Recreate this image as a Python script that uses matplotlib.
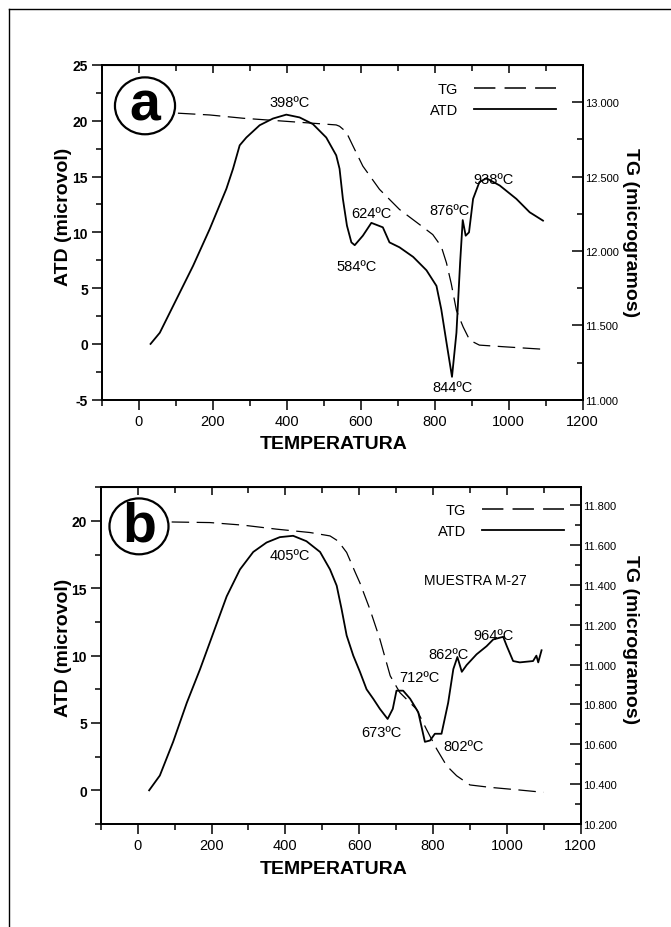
"""ATD / TG de dos muestras (a y b), figura de dos paneles."""
import matplotlib

matplotlib.use("Agg")
import matplotlib.pyplot as plt  # noqa: E402
from matplotlib.lines import Line2D  # noqa: E402
from matplotlib.patches import Ellipse  # noqa: E402
from matplotlib.ticker import MultipleLocator, FixedLocator  # noqa: E402

plt.rcParams["font.family"] = ["Liberation Sans", "DejaVu Sans"]

# ---------------------------------------------------------------------------
# Datos
# ---------------------------------------------------------------------------
# Panel a - ATD (microvol)
T_A_ATD = [32, 57, 102, 147, 192, 237, 255, 273, 291, 327, 363, 399, 435, 471,
           507, 534, 543, 552, 563, 575, 584, 606, 629, 660, 678, 705, 742, 778,
           805, 818, 832, 847, 859, 869, 876, 884, 893, 904, 921, 940, 976, 1021,
           1057, 1093]
ATD_A = [0.0, 1.0, 4.0, 7.0, 10.3, 13.9, 15.7, 17.8, 18.5, 19.6, 20.2, 20.55,
         20.3, 19.7, 18.5, 16.9, 15.7, 13.0, 10.6, 9.1, 8.85, 9.7, 10.85, 10.45,
         9.1, 8.66, 7.8, 6.6, 5.2, 3.1, 0.15, -2.95, 1.0, 7.3, 11.1, 9.7, 10.0,
         13.0, 14.5, 14.85, 14.2, 13.0, 11.8, 11.05]
# Panel a - TG (microgramos)
T_A_TG = [106, 192, 282, 372, 462, 534, 543, 561, 579, 606, 651, 705, 759, 795,
          818, 832, 845, 859, 877, 895, 921, 993, 1101]
TG_A = [12.926, 12.914, 12.892, 12.876, 12.860, 12.847, 12.838, 12.80, 12.707,
        12.57, 12.414, 12.279, 12.178, 12.11, 12.03, 11.92, 11.78, 11.60, 11.49,
        11.40, 11.367, 11.355, 11.338]

# Panel b - ATD
T_B_ATD = [31, 60, 96, 133, 169, 205, 241, 277, 313, 349, 385, 421, 457, 494,
           521, 539, 552, 566, 584, 602, 620, 638, 656, 677, 691, 701, 719, 738,
           760, 778, 792, 805, 823, 841, 855, 866, 878, 891, 918, 945, 963, 990,
           1000, 1017, 1035, 1071, 1080, 1085, 1094]
ATD_B = [0.0, 1.1, 3.6, 6.5, 9.0, 11.7, 14.4, 16.4, 17.7, 18.4, 18.8, 18.9, 18.5,
         17.7, 16.4, 15.2, 13.5, 11.5, 10.0, 8.8, 7.5, 6.8, 6.05, 5.3, 6.05, 7.4,
         7.4, 6.8, 5.8, 3.6, 3.7, 4.2, 4.2, 6.5, 9.0, 9.9, 8.8, 9.3, 10.1, 10.7,
         11.2, 11.4, 10.7, 9.6, 9.5, 9.6, 10.0, 9.5, 10.4]
# Panel b - TG
T_B_TG = [92, 196, 286, 376, 467, 521, 543, 566, 590, 602, 629, 656, 684, 710,
          755, 782, 810, 837, 864, 900, 954, 1026, 1099]
TG_B = [11.716, 11.713, 11.70, 11.68, 11.663, 11.646, 11.62, 11.563, 11.46,
        11.41, 11.278, 11.128, 10.944, 10.86, 10.777, 10.676, 10.576, 10.492,
        10.442, 10.396, 10.384, 10.372, 10.359]

# Picos anotados: (texto, T, ATD)
PICOS_A = [("398ºC", 408, 21.7), ("584ºC", 589, 7.0), ("624ºC", 629, 11.7),
           ("876ºC", 840, 12.0), ("938ºC", 958, 14.8), ("844ºC", 848, -3.9)]
PICOS_B = [("405ºC", 412, 17.5), ("673ºC", 661, 4.3), ("712ºC", 763, 8.4),
           ("802ºC", 882, 3.3), ("862ºC", 841, 10.1), ("964ºC", 965, 11.55)]

X_TICKS = [0, 200, 400, 600, 800, 1000, 1200]
Y_TICKS_A = [-5, 0, 5, 10, 15, 20, 25]
Y_TICKS_B = [0, 5, 10, 15, 20]
TG_TICKS_A = [11.0, 11.5, 12.0, 12.5, 13.0]
TG_TICKS_B = [10.2, 10.4, 10.6, 10.8, 11.0, 11.2, 11.4, 11.6, 11.8]

TINTA = "black"
DASH = (0, (14, 6))


def panel(fig, rect, t_atd, atd, t_tg, tg, ylim, yticks, tglim, tgticks,
          tgminor, picos, letra, elipse, leyenda, extra=None):
    ax = fig.add_axes(rect)
    ax2 = ax.twinx()

    ax.plot(t_atd, atd, color=TINTA, lw=1.3)
    ax2.plot(t_tg, tg, color=TINTA, lw=0.9, linestyle=DASH)

    ax.set_xlim(-100, 1200)
    ax.set_ylim(*ylim)
    ax2.set_ylim(*tglim)

    ax.xaxis.set_major_locator(FixedLocator(X_TICKS))
    ax.xaxis.set_minor_locator(MultipleLocator(100))
    ax.set_xticklabels([str(t) for t in X_TICKS], fontsize=10.5)
    ax.yaxis.set_major_locator(FixedLocator(yticks))
    ax.yaxis.set_minor_locator(MultipleLocator(2.5))
    ax.set_yticklabels([str(v) for v in yticks], fontsize=10, fontweight="bold")
    ax.tick_params(axis="both", which="major", direction="out", length=7,
                   width=1.1, pad=3)
    ax.tick_params(axis="both", which="minor", direction="out", length=4,
                   width=1.1)

    ax2.yaxis.set_major_locator(FixedLocator(tgticks))
    ax2.yaxis.set_minor_locator(MultipleLocator(tgminor))
    ax2.set_yticklabels([f"{v:.3f}" for v in tgticks], fontsize=8)
    ax2.tick_params(axis="y", which="major", direction="in", length=8,
                    width=1.1, pad=2)
    ax2.tick_params(axis="y", which="minor", direction="in", length=4,
                    width=1.1)

    # marcas superiores hacia dentro
    top = ax.secondary_xaxis("top")
    top.xaxis.set_major_locator(FixedLocator(X_TICKS))
    top.xaxis.set_minor_locator(MultipleLocator(100))
    top.tick_params(which="both", direction="in", labeltop=False, width=1.1)
    top.tick_params(which="major", length=6)
    top.tick_params(which="minor", length=4)

    for a in (ax, ax2):
        for s in a.spines.values():
            s.set_linewidth(1.3)

    for txt, t, v in picos:
        ax.text(t, v, txt, ha="center", va="center", fontsize=10.5,
                color=TINTA)
    if extra:
        ax.text(extra[1], extra[2], extra[0], ha="center", va="center",
                fontsize=10, color=TINTA)

    # circulo con la letra del panel
    cx, cy, w, h = elipse
    ax.add_patch(Ellipse((cx, cy), w, h, transform=ax.transAxes, fill=False,
                         lw=1.6, color=TINTA, zorder=5))
    ax.text(cx, cy, letra, transform=ax.transAxes, ha="center", va="center",
            fontsize=40, fontweight="bold", color=TINTA, zorder=5)

    manejadores = [Line2D([], [], color=TINTA, lw=1.1, linestyle=DASH),
                   Line2D([], [], color=TINTA, lw=1.3)]
    ax2.legend(manejadores, ["TG", "ATD"], loc="upper right",
               bbox_to_anchor=leyenda, frameon=False,
               markerfirst=False, handlelength=5.6, handletextpad=1.1,
               labelspacing=0.43, fontsize=10.5, borderaxespad=0,
               borderpad=0)
    return ax, ax2


fig = plt.figure(figsize=(6.71, 9.28), dpi=100)

# marco exterior (solo bordes superior e izquierdo visibles)
fig.add_artist(Line2D([0.0134, 0.0134], [0.0, 0.9895], color=TINTA, lw=1.0))
fig.add_artist(Line2D([0.0134, 1.0], [0.9895, 0.9895], color=TINTA, lw=1.0))

panel(fig, [0.1516, 0.5682, 0.7166, 0.3607], T_A_ATD, ATD_A, T_A_TG, TG_A,
      (-5, 25), Y_TICKS_A, (11.0, 13.25), TG_TICKS_A, 0.25, PICOS_A, "a",
      (0.090, 0.878, 0.125, 0.170), (0.945, 0.948))
panel(fig, [0.1502, 0.1110, 0.7152, 0.3628], T_B_ATD, ATD_B, T_B_TG, TG_B,
      (-2.5, 22.5), Y_TICKS_B, (10.2, 11.89), TG_TICKS_B, 0.1, PICOS_B, "b",
      (0.0796, 0.884, 0.123, 0.166), (0.965, 0.952),
      extra=("MUESTRA M-27", 914, 15.6))

# etiquetas de ejes
for yc_atd, yc_tg, y_temp in [(217, 233, 445), (648, 640, 870)]:
    fig.text(64 / 671, 1 - yc_atd / 928, "ATD (microvol)", rotation=90,
             ha="center", va="center", fontsize=14, fontweight="bold")
    fig.text(631 / 671, 1 - yc_tg / 928, "TG (microgramos)", rotation=-90,
             ha="center", va="center", fontsize=14, fontweight="bold")
    fig.text(334 / 671, 1 - y_temp / 928, "TEMPERATURA", ha="center",
             va="center", fontsize=14, fontweight="bold")

fig.savefig("out.png", dpi=100)
